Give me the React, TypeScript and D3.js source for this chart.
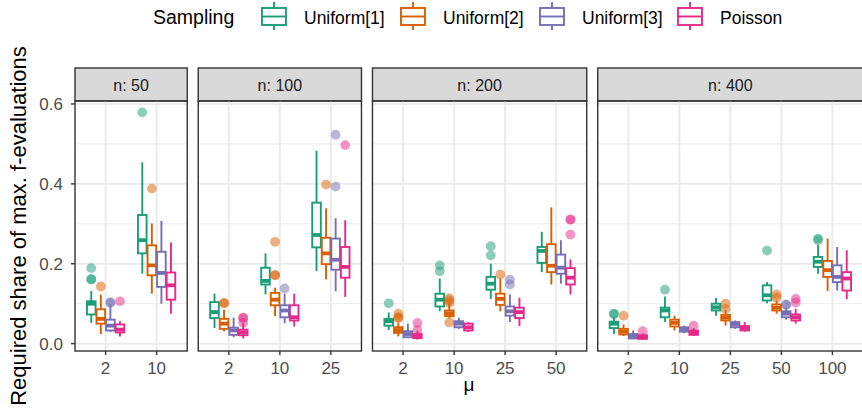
import * as d3 from "d3";

// Box-plot summary of the required share of max. f-evaluations, faceted by n.
const W = 862;
const H = 410;

const SAMPLINGS = ["Uniform[1]", "Uniform[2]", "Uniform[3]", "Poisson"];
const COLORS = ["#1B9E77", "#D95F02", "#7570B3", "#E7298A"];
const FACETS = ["n: 50", "n: 100", "n: 200", "n: 400"];

const MU_50 = ["2", "10"];
const MU_100 = ["2", "10", "25"];
const MU_200 = ["2", "10", "25", "50"];
const MU_400 = ["2", "10", "25", "50", "100"];
const MU_LEVELS = [MU_50, MU_100, MU_200, MU_400];

// [mu, sampling, lower whisker, q1, median, q3, upper whisker, outliers]
type Row = [string, number, number, number, number, number, number, number[]];

const BOX_50: Row[] = [
  ["2", 0, 0.052, 0.073, 0.1, 0.106, 0.132, [0.189, 0.16, 0.162]],
  ["2", 1, 0.024, 0.05, 0.062, 0.086, 0.123, [0.143]],
  ["2", 2, 0.029, 0.033, 0.045, 0.06, 0.098, [0.104, 0.102]],
  ["2", 3, 0.018, 0.028, 0.035, 0.048, 0.056, [0.106]],
  ["10", 0, 0.175, 0.226, 0.259, 0.322, 0.454, [0.579]],
  ["10", 1, 0.125, 0.171, 0.196, 0.246, 0.301, [0.388]],
  ["10", 2, 0.1, 0.142, 0.177, 0.23, 0.307, []],
  ["10", 3, 0.075, 0.11, 0.146, 0.178, 0.253, []],
];

const BOX_100: Row[] = [
  ["2", 0, 0.039, 0.064, 0.079, 0.104, 0.125, []],
  ["2", 1, 0.031, 0.037, 0.05, 0.062, 0.085, [0.102, 0.101]],
  ["2", 2, 0.016, 0.022, 0.033, 0.04, 0.065, []],
  ["2", 3, 0.013, 0.021, 0.028, 0.035, 0.051, [0.065, 0.064, 0.052]],
  ["10", 0, 0.123, 0.148, 0.157, 0.19, 0.226, []],
  ["10", 1, 0.069, 0.096, 0.11, 0.127, 0.14, [0.255, 0.172, 0.171]],
  ["10", 2, 0.051, 0.066, 0.083, 0.096, 0.125, [0.138]],
  ["10", 3, 0.043, 0.058, 0.066, 0.096, 0.125, []],
  ["25", 0, 0.182, 0.241, 0.272, 0.353, 0.483, []],
  ["25", 1, 0.161, 0.199, 0.226, 0.265, 0.339, [0.398]],
  ["25", 2, 0.131, 0.185, 0.21, 0.263, 0.314, [0.523, 0.393]],
  ["25", 3, 0.117, 0.165, 0.192, 0.242, 0.309, [0.497]],
];

const BOX_200: Row[] = [
  ["2", 0, 0.034, 0.045, 0.056, 0.062, 0.078, [0.101]],
  ["2", 1, 0.018, 0.027, 0.034, 0.041, 0.052, [0.075, 0.064, 0.066]],
  ["2", 2, 0.014, 0.016, 0.024, 0.031, 0.05, []],
  ["2", 3, 0.01, 0.014, 0.019, 0.024, 0.033, [0.052, 0.034]],
  ["10", 0, 0.081, 0.093, 0.11, 0.125, 0.163, [0.196, 0.181]],
  ["10", 1, 0.064, 0.069, 0.076, 0.083, 0.101, [0.114, 0.108, 0.102, 0.053]],
  ["10", 2, 0.037, 0.041, 0.05, 0.056, 0.065, []],
  ["10", 3, 0.029, 0.033, 0.041, 0.05, 0.054, []],
  ["25", 0, 0.112, 0.135, 0.15, 0.167, 0.2, [0.244, 0.221]],
  ["25", 1, 0.081, 0.097, 0.112, 0.125, 0.163, [0.173]],
  ["25", 2, 0.054, 0.07, 0.081, 0.093, 0.123, [0.16, 0.148]],
  ["25", 3, 0.044, 0.064, 0.079, 0.09, 0.115, []],
  ["50", 0, 0.179, 0.202, 0.232, 0.242, 0.28, []],
  ["50", 1, 0.148, 0.179, 0.195, 0.249, 0.341, []],
  ["50", 2, 0.15, 0.175, 0.19, 0.223, 0.259, []],
  ["50", 3, 0.123, 0.148, 0.165, 0.189, 0.211, [0.311, 0.31, 0.273]],
];

const BOX_400: Row[] = [
  ["2", 0, 0.024, 0.039, 0.05, 0.055, 0.066, [0.075, 0.074]],
  ["2", 1, 0.019, 0.023, 0.03, 0.037, 0.048, [0.07]],
  ["2", 2, 0.012, 0.013, 0.019, 0.024, 0.033, []],
  ["2", 3, 0.01, 0.012, 0.016, 0.021, 0.026, [0.031]],
  ["10", 0, 0.054, 0.066, 0.083, 0.09, 0.118, [0.135]],
  ["10", 1, 0.033, 0.043, 0.052, 0.06, 0.07, []],
  ["10", 2, 0.026, 0.03, 0.036, 0.041, 0.045, []],
  ["10", 3, 0.019, 0.022, 0.028, 0.033, 0.039, [0.045]],
  ["25", 0, 0.07, 0.083, 0.091, 0.1, 0.114, []],
  ["25", 1, 0.045, 0.058, 0.065, 0.072, 0.085, [0.1, 0.087]],
  ["25", 2, 0.037, 0.041, 0.048, 0.054, 0.058, []],
  ["25", 3, 0.03, 0.033, 0.039, 0.044, 0.054, []],
  ["50", 0, 0.101, 0.108, 0.121, 0.146, 0.154, [0.233]],
  ["50", 1, 0.075, 0.083, 0.09, 0.098, 0.108, [0.123, 0.115]],
  ["50", 2, 0.06, 0.066, 0.075, 0.081, 0.09, [0.098, 0.097]],
  ["50", 3, 0.05, 0.058, 0.066, 0.073, 0.087, [0.112, 0.103]],
  ["100", 0, 0.175, 0.192, 0.205, 0.217, 0.247, [0.263, 0.259]],
  ["100", 1, 0.132, 0.167, 0.184, 0.207, 0.263, []],
  ["100", 2, 0.133, 0.154, 0.167, 0.196, 0.242, []],
  ["100", 3, 0.111, 0.133, 0.163, 0.179, 0.234, []],
];

const BOXES = [BOX_50, BOX_100, BOX_200, BOX_400];

const Y_MAJOR = [0, 0.2, 0.4, 0.6];
const Y_MINOR = [0.1, 0.3, 0.5];

// layout
const PANEL_LEFT = 75;
const PANEL_RIGHT = 863;
const PANEL_GAP = 11;
const PANEL_TOP = 101;
const PANEL_BOTTOM = 351;
const STRIP_TOP = 68;
const FONT = "Liberation Sans, Arial, Helvetica, sans-serif";
const LEGEND_KEYS = [259, 398, 537, 675];
const LW = 1.9;

export default function App() {
  const allVals = BOXES.flat().flatMap((r) => [r[2], r[6], ...r[7]]);
  const lo = d3.min(allVals) as number;
  const hi = d3.max(allVals) as number;
  const pad = (hi - lo) * 0.05;
  const y = d3.scaleLinear().domain([lo - pad, hi + pad]).range([PANEL_BOTTOM, PANEL_TOP]);

  // panel widths proportional to the number of mu levels (space = "free")
  const units = MU_LEVELS.map((l) => l.length + 0.2);
  const unitPx = (PANEL_RIGHT - PANEL_LEFT - PANEL_GAP * (FACETS.length - 1)) / d3.sum(units);
  let cursor = PANEL_LEFT;
  const panels = FACETS.map((label, i) => {
    const x0 = cursor;
    const x1 = x0 + units[i] * unitPx;
    cursor = x1 + PANEL_GAP;
    const x = d3.scalePoint<string>().domain(MU_LEVELS[i]).range([x0, x1]).padding(0.6);
    return { label, x0, x1, x, rows: BOXES[i] };
  });

  const slot = (0.75 / SAMPLINGS.length) * unitPx;
  const boxW = slot * 0.9;

  return (
    <svg
      width={W}
      height={H}
      style={{ position: "absolute", left: 0, top: 0, background: "#fff" }}
      fontFamily={FONT}
    >
      {/* legend */}
      <text x={153} y={24} fontSize={19.5} fill="#000">
        Sampling
      </text>
      {SAMPLINGS.map((s, j) => {
        const kx = LEGEND_KEYS[j];
        const c = COLORS[j];
        return (
          <g key={s}>
            <line x1={kx + 15} x2={kx + 15} y1={2} y2={30} stroke={c} strokeWidth={LW} />
            <rect x={kx + 3} y={8} width={24} height={17} fill="#fff" stroke={c} strokeWidth={LW} />
            <line x1={kx + 3} x2={kx + 27} y1={16.5} y2={16.5} stroke={c} strokeWidth={LW} />
            <text x={kx + 45} y={23.5} fontSize={17.5} fill="#000">
              {s}
            </text>
          </g>
        );
      })}

      {panels.map((p) => (
        <g key={p.label}>
          {/* strip */}
          <rect
            x={p.x0}
            y={STRIP_TOP}
            width={p.x1 - p.x0}
            height={PANEL_TOP - STRIP_TOP}
            fill="#D9D9D9"
            stroke="#333"
            strokeWidth={1.4}
          />
          <text
            x={(p.x0 + p.x1) / 2}
            y={(STRIP_TOP + PANEL_TOP) / 2 + 6}
            textAnchor="middle"
            fontSize={16}
            fill="#1A1A1A"
          >
            {p.label}
          </text>

          {/* grid */}
          {Y_MINOR.map((v) => (
            <line key={"mi" + v} x1={p.x0} x2={p.x1} y1={y(v)} y2={y(v)} stroke="#EBEBEB" strokeWidth={1} />
          ))}
          {Y_MAJOR.map((v) => (
            <line key={"ma" + v} x1={p.x0} x2={p.x1} y1={y(v)} y2={y(v)} stroke="#EBEBEB" strokeWidth={2} />
          ))}
          {p.x.domain().map((m) => (
            <line
              key={"vx" + m}
              x1={p.x(m)}
              x2={p.x(m)}
              y1={PANEL_TOP}
              y2={PANEL_BOTTOM}
              stroke="#EBEBEB"
              strokeWidth={2}
            />
          ))}

          {/* boxes */}
          {p.rows.map((r) => {
            const [mu, s, w0, q1, med, q3, w1, outs] = r;
            const cx = (p.x(mu) as number) + (s - (SAMPLINGS.length - 1) / 2) * slot;
            const c = COLORS[s];
            return (
              <g key={mu + "-" + s}>
                <line x1={cx} x2={cx} y1={y(q3)} y2={y(w1)} stroke={c} strokeWidth={LW} />
                <line x1={cx} x2={cx} y1={y(q1)} y2={y(w0)} stroke={c} strokeWidth={LW} />
                <rect
                  x={cx - boxW / 2}
                  y={y(q3)}
                  width={boxW}
                  height={Math.max(0.5, y(q1) - y(q3))}
                  fill="#fff"
                  stroke={c}
                  strokeWidth={LW}
                />
                <line
                  x1={cx - boxW / 2}
                  x2={cx + boxW / 2}
                  y1={y(med)}
                  y2={y(med)}
                  stroke={c}
                  strokeWidth={LW * 2}
                />
                {outs.map((o, k) => (
                  <circle key={k} cx={cx} cy={y(o)} r={4.9} fill={c} fillOpacity={0.5} />
                ))}
              </g>
            );
          })}

          {/* border */}
          <rect
            x={p.x0}
            y={PANEL_TOP}
            width={p.x1 - p.x0}
            height={PANEL_BOTTOM - PANEL_TOP}
            fill="none"
            stroke="#333"
            strokeWidth={1.4}
          />

          {/* x axis */}
          {p.x.domain().map((m) => (
            <g key={"xt" + m}>
              <line
                x1={p.x(m)}
                x2={p.x(m)}
                y1={PANEL_BOTTOM}
                y2={PANEL_BOTTOM + 4}
                stroke="#333"
                strokeWidth={1.4}
              />
              <text x={p.x(m)} y={PANEL_BOTTOM + 22.5} textAnchor="middle" fontSize={17} fill="#4D4D4D">
                {m}
              </text>
            </g>
          ))}
        </g>
      ))}

      {/* y axis */}
      {Y_MAJOR.map((v) => (
        <g key={"yt" + v}>
          <line x1={PANEL_LEFT - 4} x2={PANEL_LEFT} y1={y(v)} y2={y(v)} stroke="#333" strokeWidth={1.4} />
          <text x={PANEL_LEFT - 12} y={y(v) + 6} textAnchor="end" fontSize={17} fill="#4D4D4D">
            {d3.format(".1f")(v)}
          </text>
        </g>
      ))}
      <text
        transform={`translate(25.5,${(PANEL_TOP + PANEL_BOTTOM) / 2}) rotate(-90)`}
        textAnchor="middle"
        fontSize={22}
        fill="#000"
      >
        Required share of max. f-evaluations
      </text>
      <text x={(PANEL_LEFT + PANEL_RIGHT) / 2} y={391} textAnchor="middle" fontSize={19} fill="#000">
        μ
      </text>
    </svg>
  );
}
